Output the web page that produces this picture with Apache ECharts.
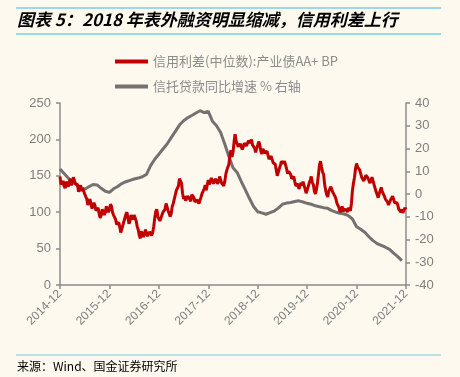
<!DOCTYPE html>
<html><head><meta charset="utf-8">
<script src="https://cdn.jsdelivr.net/npm/echarts@6/dist/echarts.min.js"></script>
<style>html,body{margin:0;padding:0;background:#FDF9EF;}#c{width:460px;height:377px;}</style>
</head><body><div id="c"></div>
<script>
// x tick labels (one per year, month index 0,12,...,84 from 2014-12)
const tickLabels = ['2014-12','2015-12','2016-12','2017-12','2018-12','2019-12','2020-12','2021-12'];
const seriesNames = ['信用利差(中位数):产业债AA+ BP','信托贷款同比增速 % 右轴'];
// weekly-ish credit spread (BP), 4 points per month, starting 2014-12
const redSpread = [
149,138,140,143,136,133,142,144,135,136,146,137,138,148,148,139,140,138,128,126,
137,129,133,132,125,125,118,110,114,118,112,105,108,113,109,102,104,106,98,92,
96,104,103,96,100,108,108,100,104,111,108,100,96,97,90,83,84,86,80,72,
73,82,80,92,97,100,92,84,88,96,94,90,96,98,88,80,76,68,64,74,
72,66,70,76,74,67,68,73,74,68,72,80,92,101,104,94,96,88,86,96,
100,98,104,112,110,102,100,94,98,108,112,114,124,130,132,136,146,148,140,126,
118,122,116,114,122,124,118,115,124,126,120,114,112,117,118,112,114,121,126,124,
132,137,130,138,144,138,140,147,146,139,140,146,145,139,142,149,148,140,138,136,
142,152,158,160,166,178,185,176,182,196,207,198,200,190,188,194,192,186,190,195,
196,191,193,198,197,195,200,192,190,188,182,188,192,197,193,184,180,187,186,181,
183,184,178,173,172,177,175,168,170,166,158,150,152,160,164,170,172,167,170,165,
160,153,156,157,152,146,148,149,142,136,138,139,132,134,140,137,142,137,132,126,
128,135,140,144,149,141,138,129,125,131,140,152,165,170,162,155,152,138,130,124,
121,129,130,135,133,127,125,122,118,112,110,106,100,103,108,101,104,106,103,100,
106,105,102,112,130,140,148,160,167,162,160,158,153,148,150,143,146,151,152,147,
148,140,142,148,146,138,136,128,124,120,122,130,134,128,130,122,118,117,114,110,
112,117,116,122,121,113,114,113,110,104,102,100,104,99,100,106,104];
// monthly trust loan YoY (%), starting 2014-12
const trustYoY = [11,9,7,5.3,4,2.8,2.1,3.2,4.2,4,2.5,1.2,0.7,2.3,3.3,4.6,5.4,6,6.6,7,
7.6,8.6,12.5,15.3,17.5,19.8,22,24.8,27.5,30.3,32.2,33.5,34.5,35.6,36.6,35.8,36.3,32,30,27,
22,16.5,11.5,9.5,5.5,1.8,-2,-5.5,-7.8,-8.3,-8.9,-8.2,-7.5,-6.2,-4.5,-4,-3.7,-3.3,-3,-3.5,
-4.1,-4.5,-5.2,-5.6,-6,-6.3,-7.3,-8,-8.5,-8.8,-9.5,-11,-14.4,-15.5,-16.8,-18.8,-20.5,-21.8,-22.6,-23.4,
-24.3,-26,-27.5,-29.3];

const redData = redSpread.map((v,i)=>[i/4, v]);
const grayData = trustYoY.map((v,i)=>[i, v]);

const axisGray = '#8C8C8C';
const labelGray = '#7F7F7F';
const chart = echarts.init(document.getElementById('c'), null, {renderer:'canvas'});
chart.setOption({
  backgroundColor: '#FDF9EF',
  animation: false,
  grid: {left: 60, right: 54, top: 103, bottom: 92},
  legend: {
    orient: 'vertical', left: 115, top: 55, padding: 0, itemWidth: 33, itemHeight: 4, itemGap: 12,
    icon: 'rect',
    textStyle: {color: '#8C8C8C', fontSize: 13, fontFamily: 'Noto Sans CJK SC'},
    data: seriesNames
  },
  xAxis: {
    type: 'value', min: 0, max: 84, interval: 12,
    axisLine: {show: true, lineStyle: {color: axisGray, width: 1.5}},
    axisTick: {show: true, length: 4, lineStyle: {color: axisGray, width: 1.5}},
    splitLine: {show: false},
    axisLabel: {rotate: 45, color: labelGray, fontSize: 12, fontFamily: 'Liberation Sans', margin: 7,
      formatter: v => tickLabels[Math.round(v/12)]}
  },
  yAxis: [{
    type: 'value', min: 0, max: 250, interval: 50,
    axisLine: {show: true, lineStyle: {color: axisGray, width: 1.5}},
    axisTick: {show: true, length: 4, lineStyle: {color: axisGray, width: 1.5}},
    splitLine: {show: false},
    axisLabel: {color: labelGray, fontSize: 13, fontFamily: 'Liberation Sans', margin: 9}
  },{
    type: 'value', min: -40, max: 40, interval: 10, position: 'right',
    axisLine: {show: true, lineStyle: {color: axisGray, width: 1.5}},
    axisTick: {show: true, length: 4, lineStyle: {color: axisGray, width: 1.5}},
    splitLine: {show: false},
    axisLabel: {color: labelGray, fontSize: 13, fontFamily: 'Liberation Sans', margin: 9}
  }],
  series: [{
    name: seriesNames[0], type: 'line', yAxisIndex: 0, data: redData,
    showSymbol: false, symbol: 'none', color: '#C00000',
    lineStyle: {color: '#C00000', width: 3}, z: 3
  },{
    name: seriesNames[1], type: 'line', yAxisIndex: 1, data: grayData,
    showSymbol: false, symbol: 'none', color: '#767171',
    lineStyle: {color: '#767171', width: 3}, z: 2
  }],
  graphic: [
    {type: 'line', shape: {x1: 16, y1: 8, x2: 441, y2: 8}, style: {stroke: '#3DB5E8', lineWidth: 1}},
    {type: 'line', shape: {x1: 16, y1: 34, x2: 441, y2: 34}, style: {stroke: '#3DB5E8', lineWidth: 1}},
    {type: 'text', left: 17, top: 11, style: {text: '图表 5：2018 年表外融资明显缩减，信用利差上行',
      font: 'italic bold 17px "Noto Sans CJK SC"', fill: '#000'}},
    {type: 'line', shape: {x1: 16, y1: 355, x2: 441, y2: 355}, style: {stroke: '#7EC8E3', lineWidth: 1}},
    {type: 'text', left: 17, top: 360, style: {text: '来源：Wind、国金证券研究所',
      font: '12px "Noto Sans CJK SC"', fill: '#000'}}
  ]
});
</script></body></html>
